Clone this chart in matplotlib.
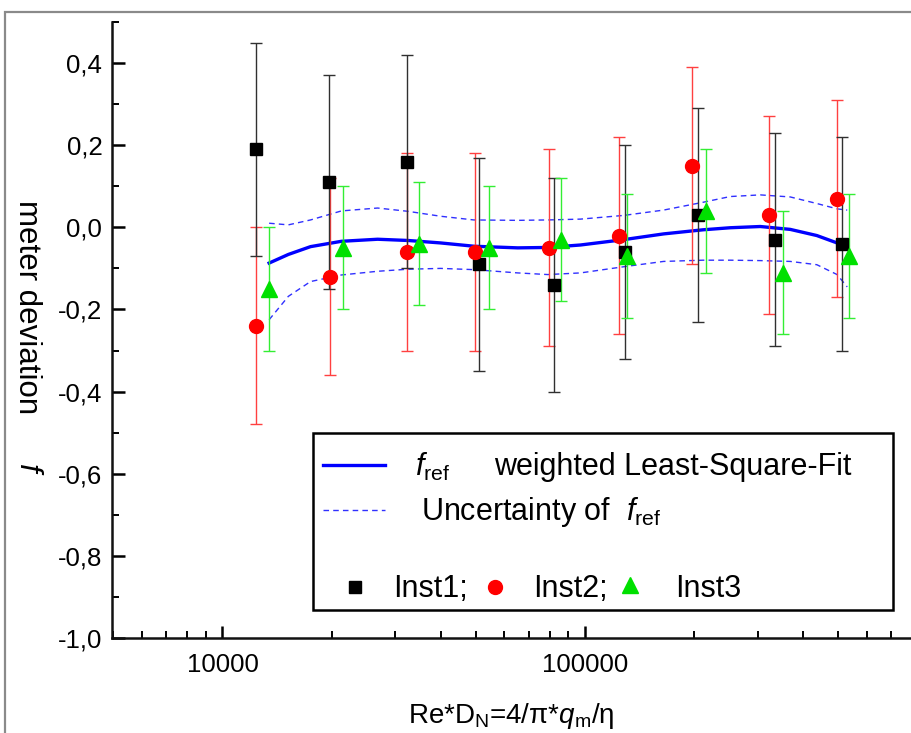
import matplotlib
matplotlib.use("Agg")
import matplotlib.pyplot as plt
from matplotlib.patches import Rectangle
from matplotlib.lines import Line2D
from matplotlib.ticker import FixedLocator, FuncFormatter, NullFormatter

plt.rcParams['font.family'] = ['Liberation Sans', 'DejaVu Sans']
plt.rcParams['mathtext.fontset'] = 'custom'
plt.rcParams['mathtext.rm'] = 'Liberation Sans'
plt.rcParams['mathtext.it'] = 'Liberation Sans:italic'

# ---- data ----
inst1_x = [12400, 19700, 32300, 50900, 82000, 129000, 204700, 335000, 513000]
inst1_y = [0.19, 0.11, 0.16, -0.09, -0.14, -0.06, 0.03, -0.03, -0.04]
inst1_err = [0.26] * 9

inst2_x = [12400, 19800, 32300, 49700, 79500, 124000, 198000, 323000, 497000]
inst2_y = [-0.24, -0.12, -0.06, -0.06, -0.05, -0.02, 0.15, 0.03, 0.07]
inst2_err = [0.24] * 9

inst3_x = [13450, 21500, 34800, 54300, 85700, 131000, 216000, 352000, 536000]
inst3_y = [-0.15, -0.05, -0.04, -0.05, -0.03, -0.07, 0.04, -0.11, -0.07]
inst3_err = [0.15] * 9

fit_x = [13450, 15200, 17500, 21300, 26800, 32500, 40000, 49400, 65300, 79000,
         97300, 128000, 165000, 212000, 252000, 305000, 369000, 437000, 497000, 530000]
fit_y = [-0.087, -0.066, -0.047, -0.034, -0.029, -0.032, -0.038, -0.046, -0.050, -0.049,
         -0.043, -0.030, -0.016, -0.006, -0.001, 0.002, -0.005, -0.020, -0.038, -0.050]
fit_upper = [0.010, 0.006, 0.018, 0.040, 0.047, 0.039, 0.027, 0.018, 0.017, 0.018,
             0.020, 0.029, 0.042, 0.061, 0.075, 0.079, 0.074, 0.058, 0.045, 0.042]
fit_lower = [-0.225, -0.168, -0.132, -0.116, -0.107, -0.102, -0.100, -0.103, -0.111, -0.115,
             -0.111, -0.096, -0.083, -0.080, -0.080, -0.081, -0.083, -0.091, -0.115, -0.145]

y_ticks = [-1.0, -0.8, -0.6, -0.4, -0.2, 0.0, 0.2, 0.4]
x_ticks = [10000, 100000]

# ---- figure ----
fig = plt.figure(figsize=(9.11, 7.33), dpi=100)
fig.patches.append(Rectangle((5/911, -0.1), 1.2, 1 - 12/733 + 0.1, transform=fig.transFigure,
                             fill=False, edgecolor='#8a8a8a', linewidth=1.6))
ax = fig.add_axes([112/911, 1 - 638/733, 799/911, 616/733])

ax.plot(fit_x, fit_upper, color='#3030ff', lw=1.0, ls=(0, (4, 3)), zorder=2)
ax.plot(fit_x, fit_lower, color='#3030ff', lw=1.0, ls=(0, (4, 3)), zorder=2)
ax.plot(fit_x, fit_y, color='#0000ff', lw=2.4, zorder=3)

ax.errorbar(inst2_x, inst2_y, yerr=inst2_err, fmt='none', ecolor='#ff4040', elinewidth=1.0,
            capsize=4.5, capthick=1.0, zorder=4)
ax.errorbar(inst1_x, inst1_y, yerr=inst1_err, fmt='none', ecolor='#303030', elinewidth=1.0,
            capsize=4.5, capthick=1.0, zorder=4)
ax.errorbar(inst3_x, inst3_y, yerr=inst3_err, fmt='none', ecolor='#33ee33', elinewidth=1.0,
            capsize=4.5, capthick=1.0, zorder=4)

ax.plot(inst1_x, inst1_y, 's', color='black', ms=8.5, zorder=5)
ax.plot(inst2_x, inst2_y, 'o', color='#ff0000', ms=10, zorder=5)
ax.plot(inst3_x, inst3_y, '^', color='#00e000', ms=11, zorder=6)

ax.set_xscale('log')
ax.set_xlim(4955, 795000)
ax.set_ylim(-1.0, 0.5)
for s in ['top', 'right']:
    ax.spines[s].set_visible(False)
for s in ['left', 'bottom']:
    ax.spines[s].set_linewidth(1.8)
    ax.spines[s].set_color('#111111')

ax.yaxis.set_major_locator(FixedLocator(y_ticks))
ax.yaxis.set_minor_locator(FixedLocator([v / 10 for v in range(-9, 6, 2)]))
ax.yaxis.set_major_formatter(FuncFormatter(lambda v, p: f"{v:.1f}".replace('.', ',').replace('-0,0', '0,0')))
ax.xaxis.set_major_locator(FixedLocator(x_ticks))
ax.xaxis.set_major_formatter(FuncFormatter(lambda v, p: f"{int(round(v))}"))
ax.xaxis.set_minor_formatter(NullFormatter())

ax.tick_params(which='major', direction='in', length=9, width=1.8, labelsize=18.5, pad=7)
ax.tick_params(which='minor', direction='in', length=5, width=1.4)
ax.tick_params(axis='x', which='major', pad=11)

# axis labels
fig.text(511/911, 1 - 716/733, 'Re*D$_\\mathregular{N}$=4/π*$q_\\mathregular{m}$/η',
         ha='center', va='center', fontsize=20)
fig.text(27/911, 1 - 307/733, 'meter deviation', rotation=270, ha='center', va='center', fontsize=22.5)
fig.text(27/911, 1 - 468/733, 'f', rotation=270, ha='center', va='center', fontsize=22.5, style='italic')

# custom legend
T = ax.transAxes
def fx(px):
    return (px - 112) / 799
def fy(py):
    return (638 - py) / 616

ax.add_patch(Rectangle((fx(313), fy(610)), fx(893) - fx(313), fy(433) - fy(610), transform=T,
                       fill=False, edgecolor='black', linewidth=1.8, zorder=10, clip_on=False))
ax.add_line(Line2D([fx(323), fx(385)], [fy(465), fy(465)], transform=T, color='#0000ff', lw=2.4, zorder=11))
ax.add_line(Line2D([fx(323), fx(385)], [fy(510), fy(510)], transform=T, color='#3030ff', lw=1.0,
                   ls=(0, (4, 3)), zorder=11))
ax.text(fx(415), fy(467), r'$f_{\mathregular{ref}}$', transform=T, fontsize=22, va='center', ha='left')
ax.text(fx(494), fy(467), 'weighted Least-Square-Fit', transform=T, fontsize=22, va='center', ha='left')
ax.text(fx(421), fy(512), r'Uncertainty of  $f$$_{\mathregular{ref}}$', transform=T, fontsize=22,
        va='center', ha='left')
ax.add_line(Line2D([fx(355)], [fy(587)], transform=T, marker='s', color='black', ms=8.5, ls='none', zorder=11))
ax.add_line(Line2D([fx(495)], [fy(587)], transform=T, marker='o', color='#ff0000', ms=10, ls='none', zorder=11))
ax.add_line(Line2D([fx(630)], [fy(585)], transform=T, marker='^', color='#00e000', ms=11, ls='none', zorder=11))
ax.text(fx(393), fy(589), 'Inst1;', transform=T, fontsize=22, va='center', ha='left')
ax.text(fx(533), fy(589), 'Inst2;', transform=T, fontsize=22, va='center', ha='left')
ax.text(fx(675), fy(589), 'Inst3', transform=T, fontsize=22, va='center', ha='left')

fig.savefig('out.png', dpi=100)
